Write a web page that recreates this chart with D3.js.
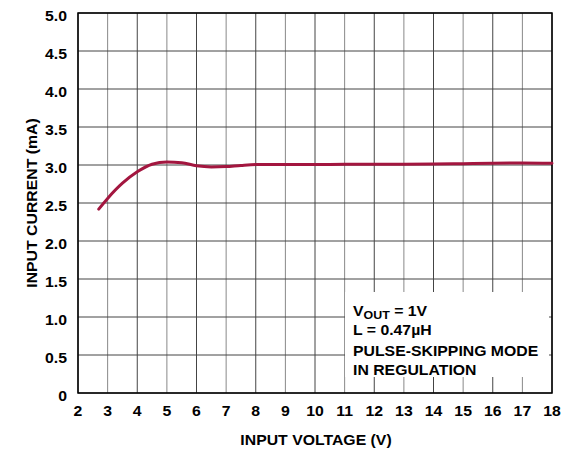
<!DOCTYPE html>
<html><head><meta charset="utf-8">
<script src="https://cdn.jsdelivr.net/npm/d3@7"></script>
<style>body{margin:0;background:#fff}svg text{font-family:"Liberation Sans",Arial,sans-serif;font-weight:bold;fill:#000}</style>
</head><body><svg id="c" width="578" height="449"></svg>
<script>
const xTicks=[2,3,4,5,6,7,8,9,10,11,12,13,14,15,16,17,18];
const yTicks=[0,0.5,1.0,1.5,2.0,2.5,3.0,3.5,4.0,4.5,5.0];
const vin=[2.7,3.0,3.5,4.0,4.5,5.0,5.5,6.0,6.5,7.0,7.5,8.0,9,10,11,12,13,14,15,16,17,18];
const iin=[2.42,2.56,2.76,2.91,3.01,3.04,3.03,2.99,2.975,2.98,2.995,3.005,3.005,3.005,3.01,3.01,3.01,3.012,3.018,3.024,3.026,3.022];
const legendLines=["L = 0.47µH","PULSE-SKIPPING MODE","IN REGULATION"];

const svg=d3.select("#c");
const L=78,R=552,T=13,B=393;
const SX=1.13, FS=14;
const x=d3.scaleLinear().domain([2,18]).range([L,R]);
const y=d3.scaleLinear().domain([0,5]).range([B,T]);

const g=svg.append("g");
g.selectAll(".vg").data(xTicks).join("line").attr("x1",d=>x(d)).attr("x2",d=>x(d)).attr("y1",T).attr("y2",B)
 .attr("stroke",(d,i)=>i%2?"#888":"#444").attr("stroke-width",1);
g.selectAll(".hg").data(yTicks).join("line").attr("y1",d=>y(d)).attr("y2",d=>y(d)).attr("x1",L).attr("x2",R)
 .attr("stroke","#444").attr("stroke-width",1);

// legend box
svg.append("rect").attr("x",345).attr("y",292).attr("width",204).attr("height",85).attr("fill","#fff");

svg.append("rect").attr("x",L).attr("y",T).attr("width",R-L).attr("height",B-T).attr("fill","none").attr("stroke","#000").attr("stroke-width",1.5);

const line=d3.line().x((d,i)=>x(vin[i])).y(d=>y(d)).curve(d3.curveMonotoneX);
svg.append("path").attr("d",line(iin)).attr("fill","none").attr("stroke","#a3163f").attr("stroke-width",3).attr("stroke-linecap","round");

function txt(px,py,anchor,rot){
  return svg.append("text").attr("transform",`translate(${px},${py})${rot?" rotate("+rot+")":""} scale(${SX},1)`)
    .attr("text-anchor",anchor).attr("font-size",FS);
}
xTicks.forEach(d=>txt(x(d),416,"middle").text(d));
yTicks.forEach(d=>txt(67,y(d)+8,"end").text(d===0?"0":d.toFixed(1)));

txt(316,445,"middle").text("INPUT VOLTAGE (V)");
txt(36.5,203,"middle",-90).text("INPUT CURRENT (mA)");

const t0=txt(353,315.5,"start");
t0.append("tspan").text("V");
t0.append("tspan").attr("font-size",11).attr("dy",3).text("OUT");
t0.append("tspan").attr("dy",-3).text(" = 1V");
legendLines.forEach((d,i)=>txt(353,[335,355.5,375][i],"start").text(d));
</script></body></html>
